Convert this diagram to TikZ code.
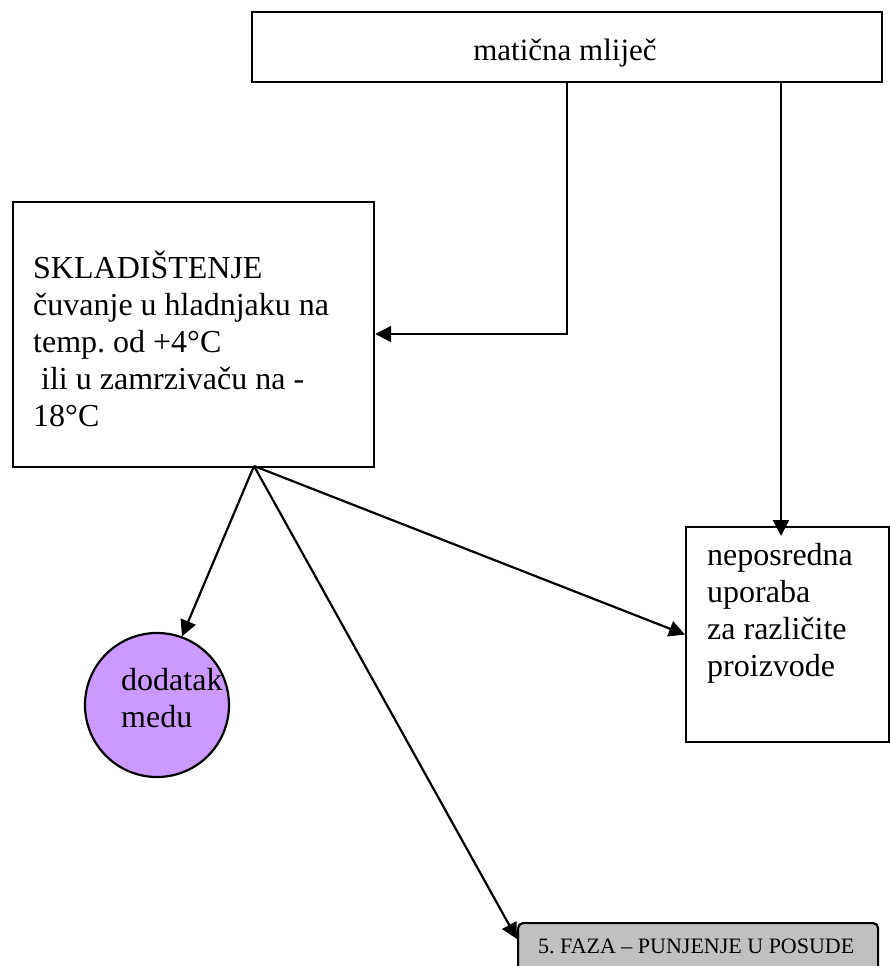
\documentclass[tikz,border=0pt]{standalone}
\usepackage{fontspec}
\setmainfont{Liberation Serif}
\frenchspacing
\usetikzlibrary{arrows.meta}
\definecolor{circfill}{RGB}{204,153,255}
\definecolor{botfill}{RGB}{192,192,192}
\begin{document}
\begin{tikzpicture}[x=1pt,y=-1pt,
  box/.style={draw,line width=2.2pt,inner sep=0pt,anchor=north west},
  txt/.style={inner sep=0pt,anchor=base west,font=\fontsize{32}{37}\selectfont},
  arr/.style={line width=2.2pt,-{Triangle[length=16pt,width=16pt]}}]
\useasboundingbox (0,0) rectangle (890,966);
% shapes
\node[box,minimum width=630pt,minimum height=70pt] (top) at (251,11) {};
\node[box,minimum width=361pt,minimum height=265pt] (sk) at (12,201) {};
\node[box,minimum width=203pt,minimum height=215pt] (nep) at (685,526) {};
\node[draw,line width=2.2pt,circle,fill=circfill,minimum size=144pt,inner sep=0pt] (circ) at (157,705) {};
\node[box,fill=botfill,rounded corners=5pt,minimum width=360pt,minimum height=80pt] (bot) at (517,922) {};
% texts
\node[inner sep=0pt,anchor=base,font=\fontsize{31}{36}\selectfont] (toptxt) at (565,60) {matična mliječ};
\node[txt] (sktxt) at (33,278) {\begin{tabular}[t]{@{}l@{}}SKLADIŠTENJE\\čuvanje u hladnjaku na\\temp. od +4°C\\\ ili u zamrzivaču na -\\18°C\end{tabular}};
\node[txt] (neptxt) at (707,565) {\begin{tabular}[t]{@{}l@{}}neposredna\\uporaba\\za različite\\proizvode\end{tabular}};
\node[txt] (circtxt) at (121,690) {\begin{tabular}[t]{@{}l@{}}dodatak\\medu\end{tabular}};
\node[inner sep=0pt,anchor=base west,font=\fontsize{22}{26}\selectfont] (bottxt) at (538,953) {5. FAZA – PUNJENJE U POSUDE};
% connectors
\coordinate (j1) at (567,334);
\coordinate (j2) at (781,0);
\coordinate (sp) at (254,466);
\draw[arr] (top.south -| j1) |- (sk.east |- j1);
\draw[arr,shorten >=-10pt] (top.south -| j2) -- (nep.north -| j2);
\draw[arr] (sp) -- (circ.70);
\draw[arr] (sp) -- (nep.west);
\draw[arr] (sp) -- ([yshift=-17pt]bot.north west);
\end{tikzpicture}
\end{document}
